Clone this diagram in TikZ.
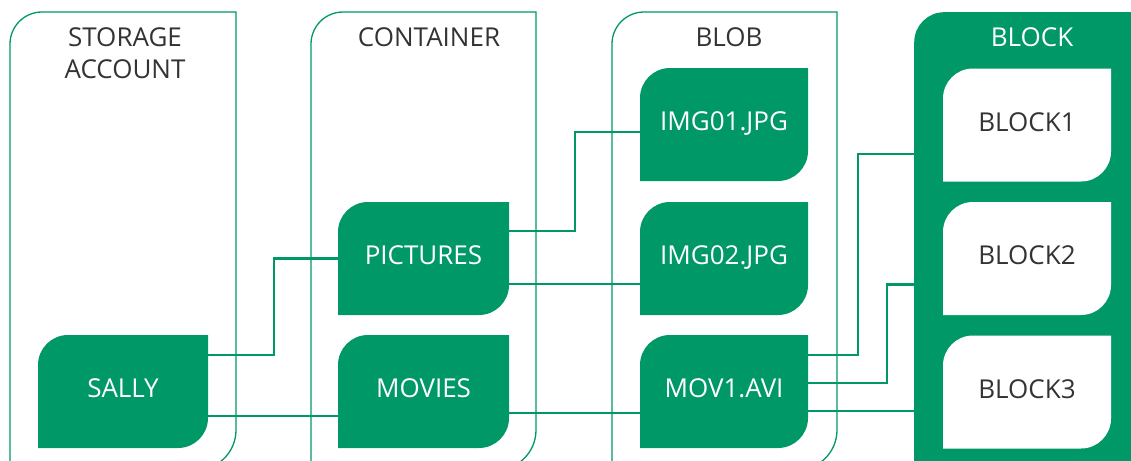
\documentclass[tikz,border=0pt]{standalone}
\usepackage{fontspec}
\setmainfont{Open Sans}
\usetikzlibrary{calc}
\definecolor{azgreen}{RGB}{0,152,102}
\definecolor{ink}{RGB}{51,51,51}
\tikzset{
  % box with rounded top-left and bottom-right corners, filled with #1
  leafshape/.style={path picture={
    \fill[#1] (path picture bounding box.south west)
      -- ([yshift=-30pt]path picture bounding box.north west)
      arc[start angle=180,end angle=90,radius=30pt]
      -- (path picture bounding box.north east)
      -- ([yshift=30pt]path picture bounding box.south east)
      arc[start angle=0,end angle=-90,radius=30pt]
      -- cycle;}},
  bigfont/.style={font=\fontsize{26}{32}\selectfont},
  leaf/.style={inner sep=0pt, minimum height=113pt, bigfont,
    text height=19pt, text depth=7pt},
  greenleaf/.style={leaf, leafshape=azgreen, text=white},
  whiteleaf/.style={leaf, leafshape=white, text=ink},
  frame/.style={draw=azgreen, line width=1.3pt},
  link/.style={draw=azgreen, line width=2.2pt},
  title/.style={text=ink, bigfont, align=center, inner sep=0pt}
}
\begin{document}
\begin{tikzpicture}[x=1pt,y=1pt]
\useasboundingbox (0,-460) rectangle (1131,0);
\clip (0,-460) rectangle (1131,0);

% column frames
\draw[frame] (10,-480) -- (10,-44) arc[start angle=180,end angle=90,radius=32]
  -- (236,-12) -- (236,-430) arc[start angle=0,end angle=-90,radius=40] -- (150,-470);
\draw[frame] (311,-480) -- (311,-44) arc[start angle=180,end angle=90,radius=32]
  -- (536,-12) -- (536,-430) arc[start angle=0,end angle=-90,radius=40] -- (450,-470);
\draw[frame] (612,-480) -- (612,-44) arc[start angle=180,end angle=90,radius=32]
  -- (837,-12) -- (837,-430) arc[start angle=0,end angle=-90,radius=40] -- (750,-470);

% block column
\node[leafshape=azgreen, inner sep=0pt, minimum width=260pt, minimum height=480pt,
  anchor=north west] (blockcol) at (914,-12) {};

% column titles
\node[title] (tsa) at (125,-53.5) {STORAGE\\ACCOUNT};
\node[title, anchor=base] (tct) at (429,-47) {CONTAINER};
\node[title, anchor=base] (tbl) at (729,-47) {BLOB};
\node[title, anchor=base, text=white] (tbk) at (1032,-47) {BLOCK};

% entries
\node[greenleaf, minimum width=170pt] (sally) at (123,-391.5) {SALLY};
\node[greenleaf, minimum width=171pt] (pictures) at (423.5,-258.5) {PICTURES};
\node[greenleaf, minimum width=171pt] (movies) at (423.5,-391.5) {MOVIES};
\node[greenleaf, minimum width=168pt] (img01) at (724,-124.5) {IMG01.JPG};
\node[greenleaf, minimum width=168pt] (img02) at (724,-258.5) {IMG02.JPG};
\node[greenleaf, minimum width=168pt] (mov1) at (724,-391.5) {MOV1.AVI};
\node[whiteleaf, minimum width=168pt] (block1) at (1027,-125) {BLOCK1};
\node[whiteleaf, minimum width=168pt] (block2) at (1027,-258.5) {BLOCK2};
\node[whiteleaf, minimum width=168pt] (block3) at (1027,-392) {BLOCK3};

% connector ports
\coordinate (sP) at ([yshift=36.5pt]sally.east);
\coordinate (sM) at ([yshift=-24.5pt]sally.east);
\coordinate (pA) at ([yshift=27.5pt]pictures.east);
\coordinate (pB) at ([yshift=-25.5pt]pictures.east);
\coordinate (iA) at ([yshift=-7.5pt]img01.west);
\coordinate (mv) at ([yshift=-21.5pt]movies.east);
\coordinate (m1) at ([yshift=36.5pt]mov1.east);
\coordinate (m2) at ([yshift=8.5pt]mov1.east);
\coordinate (m3) at ([yshift=-19.5pt]mov1.east);
\coordinate (b1) at (blockcol.west |- 0,-154);
\coordinate (b2) at (blockcol.west |- 0,-284.5);

% connectors
\draw[link] (sP) -- ++(66,0) |- (pictures.west);
\draw[link] (sM) -- (sM -| movies.west);
\draw[link] (pA) -- ++(66,0) |- (iA);
\draw[link] (pB) -- (pB -| img02.west);
\draw[link] (mv) -- (mv -| mov1.west);
\draw[link] (m1) -- ++(50,0) |- (b1);
\draw[link] (m2) -- ++(79,0) |- (b2);
\draw[link] (m3) -- (m3 -| blockcol.west);
\end{tikzpicture}
\end{document}
